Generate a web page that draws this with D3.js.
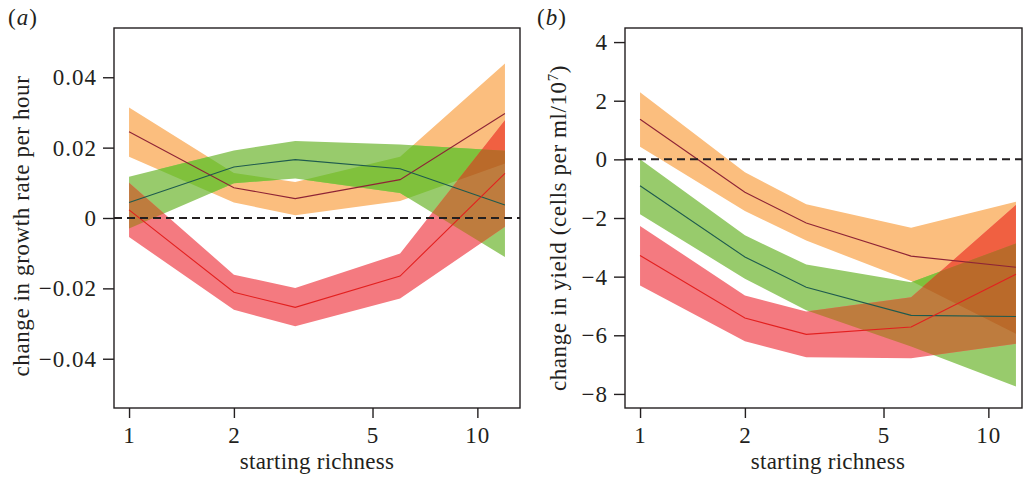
<!DOCTYPE html>
<html>
<head>
<meta charset="utf-8">
<script src="https://cdn.jsdelivr.net/npm/d3@7"></script>
<style>
  body { margin: 0; background: #fff; }
  text { font-family: "Liberation Serif", "Times New Roman", serif; fill: #231f20; }
</style>
</head>
<body>
<div class="fondo"></div>
<script>
// starting richness (x)
var riqueza = [1, 2, 3, 6, 12];
var ticksX = [1, 2, 5, 10];

// (a) change in growth rate per hour
var crecNaranjaMedia = [0.0245, 0.0086, 0.0055, 0.0109, 0.0297];
var crecNaranjaInf = [0.0174, 0.0044, 0.0008, 0.0048, 0.0155];
var crecNaranjaSup = [0.0314, 0.0128, 0.0102, 0.0174, 0.0439];
var crecVerdeMedia = [0.0044, 0.0145, 0.0166, 0.0140, 0.0037];
var crecVerdeInf = [-0.0030, 0.0099, 0.0112, 0.0071, -0.0111];
var crecVerdeSup = [0.0117, 0.0192, 0.0219, 0.0209, 0.0191];
var crecRojoMedia = [0.0023, -0.0211, -0.0254, -0.0165, 0.0127];
var crecRojoInf = [-0.0054, -0.0261, -0.0308, -0.0229, -0.0025];
var crecRojoSup = [0.0100, -0.0161, -0.0199, -0.0101, 0.0278];
var ticksCrec = [-0.04, -0.02, 0, 0.02, 0.04];

// (b) change in yield (cells per ml/10^7)
var rendNaranjaMedia = [1.37, -1.12, -2.17, -3.30, -3.68];
var rendNaranjaInf = [0.43, -1.76, -2.77, -4.15, -5.95];
var rendNaranjaSup = [2.29, -0.44, -1.53, -2.33, -1.45];
var rendVerdeMedia = [-0.90, -3.33, -4.36, -5.32, -5.36];
var rendVerdeInf = [-1.87, -4.07, -5.15, -6.38, -7.75];
var rendVerdeSup = [0.00, -2.59, -3.59, -4.19, -2.87];
var rendRojoMedia = [-3.28, -5.41, -5.97, -5.72, -3.92];
var rendRojoInf = [-4.30, -6.20, -6.75, -6.78, -6.29];
var rendRojoSup = [-2.27, -4.64, -5.19, -4.70, -1.56];
var ticksRend = [-8, -6, -4, -2, 0, 2, 4];

var colores = {
  naranja: '#fbbe7e', verde: '#98cb6c', rojo: '#f47a80',
  nv: '#80c13c', nr: '#f06041', vr: '#be7c3e', nvr: '#ba6a2a',
  lineaNaranja: '#8e2436', lineaVerde: '#1e5a4e', lineaRojo: '#e3201f'
};

var svg = d3.select('.fondo')
  .append('svg')
  .attr('width', 1023)
  .attr('height', 477);

function dibujarPanel(p) {
  var x = d3.scaleLog()
    .domain([Math.pow(10, -0.0432), Math.pow(10, 1.1224)])
    .range([p.izq, p.izq + 406]);
  var y = d3.scaleLinear()
    .domain(p.dominio)
    .range([408, 28]);

  var area = function (inf, sup) {
    return d3.area()
      .x(function (d, i) { return x(riqueza[i]); })
      .y0(function (d, i) { return y(inf[i]); })
      .y1(function (d, i) { return y(sup[i]); })(riqueza);
  };
  var linea = function (media) {
    return d3.line()
      .x(function (d, i) { return x(riqueza[i]); })
      .y(function (d, i) { return y(media[i]); })(riqueza);
  };

  var bandas = {
    naranja: area(p.naranja[1], p.naranja[2]),
    verde: area(p.verde[1], p.verde[2]),
    rojo: area(p.rojo[1], p.rojo[2])
  };

  var defs = svg.append('defs');
  Object.keys(bandas).forEach(function (k) {
    defs.append('clipPath')
      .attr('id', p.id + '-' + k)
      .append('path')
      .attr('d', bandas[k]);
  });

  var g = svg.append('g');

  // bandas solas
  ['naranja', 'verde', 'rojo'].forEach(function (k) {
    g.append('path').attr('d', bandas[k]).attr('fill', colores[k]);
  });

  // solapamientos de dos
  g.append('g').attr('clip-path', 'url(#' + p.id + '-naranja)')
    .append('path').attr('d', bandas.verde).attr('fill', colores.nv);
  g.append('g').attr('clip-path', 'url(#' + p.id + '-naranja)')
    .append('path').attr('d', bandas.rojo).attr('fill', colores.nr);
  g.append('g').attr('clip-path', 'url(#' + p.id + '-verde)')
    .append('path').attr('d', bandas.rojo).attr('fill', colores.vr);

  // los tres
  g.append('g').attr('clip-path', 'url(#' + p.id + '-naranja)')
    .append('g').attr('clip-path', 'url(#' + p.id + '-verde)')
    .append('path').attr('d', bandas.rojo).attr('fill', colores.nvr);

  // medias
  g.append('path').attr('d', linea(p.naranja[0]))
    .attr('fill', 'none').attr('stroke', colores.lineaNaranja).attr('stroke-width', 1.1);
  g.append('path').attr('d', linea(p.verde[0]))
    .attr('fill', 'none').attr('stroke', colores.lineaVerde).attr('stroke-width', 1.1);
  g.append('path').attr('d', linea(p.rojo[0]))
    .attr('fill', 'none').attr('stroke', colores.lineaRojo).attr('stroke-width', 1.1);

  // linea de cero
  g.append('line')
    .attr('x1', p.izq).attr('x2', p.der)
    .attr('y1', y(0)).attr('y2', y(0))
    .attr('stroke', '#231f20')
    .attr('stroke-width', 2)
    .attr('stroke-dasharray', '8,5');

  // caja
  svg.append('rect')
    .attr('x', p.izq).attr('y', 28)
    .attr('width', p.der - p.izq).attr('height', 380)
    .attr('fill', 'none')
    .attr('stroke', '#231f20')
    .attr('stroke-width', 1.4);

  var ejeY = svg.append('g')
    .attr('transform', 'translate(' + p.izq + ',0)')
    .call(d3.axisLeft(y).tickValues(p.ticksY).tickSize(11).tickPadding(6)
      .tickFormat(function (d) { return d < 0 ? '\u2212' + p.formato(-d) : p.formato(d); }));
  ejeY.select('.domain').remove();

  var ejeX = svg.append('g')
    .attr('transform', 'translate(0,408)')
    .call(d3.axisBottom(x).tickValues(ticksX).tickSize(10).tickPadding(9)
      .tickFormat(d3.format('d')));
  ejeX.select('.domain').remove();

  svg.selectAll('.tick line').attr('stroke', '#231f20').attr('stroke-width', 1.4);
  svg.selectAll('.tick text')
    .attr('font-family', '"Liberation Serif", "Times New Roman", serif')
    .attr('font-size', 23)
    .attr('letter-spacing', 1)
    .attr('fill', '#231f20');

  svg.append('text')
    .attr('x', p.izq + 203)
    .attr('y', 469)
    .attr('text-anchor', 'middle')
    .attr('font-size', 23)
    .attr('letter-spacing', 0.25)
    .text('starting richness');

  var titulo = svg.append('text')
    .attr('transform', 'translate(' + p.tituloX + ',' + p.tituloY + ') rotate(-90)')
    .attr('text-anchor', 'middle')
    .attr('font-size', 23)
    .attr('letter-spacing', 0.6);
  p.titulo(titulo);

  var letra = svg.append('text')
    .attr('x', p.letraX)
    .attr('y', 25)
    .attr('font-size', 23)
    .attr('letter-spacing', 1);
  letra.append('tspan').text('(');
  letra.append('tspan').attr('font-style', 'italic').text(p.letra);
  letra.append('tspan').text(')');
}

dibujarPanel({
  id: 'a', izq: 114, der: 520, dominio: [-0.054, 0.054], ticksY: ticksCrec,
  formato: function (d) { return d === 0 ? '0' : d3.format('.2f')(d); },
  naranja: [crecNaranjaMedia, crecNaranjaInf, crecNaranjaSup],
  verde: [crecVerdeMedia, crecVerdeInf, crecVerdeSup],
  rojo: [crecRojoMedia, crecRojoInf, crecRojoSup],
  tituloX: 29, tituloY: 226, letraX: 8, letra: 'a',
  titulo: function (t) { t.text('change in growth rate per hour'); }
});

dibujarPanel({
  id: 'b', izq: 625, der: 1022, dominio: [-8.48, 4.48], ticksY: ticksRend,
  formato: d3.format('d'),
  naranja: [rendNaranjaMedia, rendNaranjaInf, rendNaranjaSup],
  verde: [rendVerdeMedia, rendVerdeInf, rendVerdeSup],
  rojo: [rendRojoMedia, rendRojoInf, rendRojoSup],
  tituloX: 566, tituloY: 228, letraX: 537, letra: 'b',
  titulo: function (t) {
    t.append('tspan').text('change in yield (cells per ml/10');
    t.append('tspan').attr('font-size', 15).attr('dy', -8).text('7');
    t.append('tspan').attr('dy', 8).text(')');
  }
});
</script>
</body>
</html>
